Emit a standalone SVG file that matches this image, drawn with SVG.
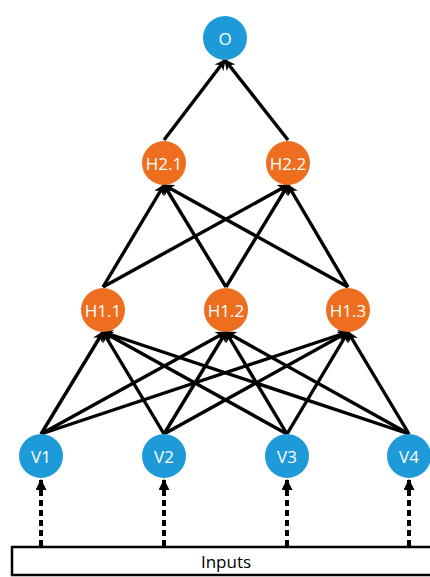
<svg xmlns="http://www.w3.org/2000/svg" width="430" height="577" viewBox="0 0 430 577">
<style>
.blue{fill:#1E9AD8}
.orange{fill:#EC6E1E}
.lbl{font-family:"Open Sans","Liberation Sans",sans-serif;font-size:17px;fill:#fff;text-anchor:middle;dominant-baseline:central}
.e{stroke:#000;stroke-width:3.4;fill:none;marker-end:url(#ah)}
.d{stroke:#000;stroke-width:4;stroke-dasharray:6,4;fill:none;marker-end:url(#ah2)}
</style>
<defs>
<marker id="ah" markerUnits="userSpaceOnUse" viewBox="0 0 10 10" refX="9" refY="5" markerWidth="11" markerHeight="11" orient="auto">
<path d="M0,0 L10,5 L0,10 L3,5 Z" fill="#000"/>
</marker>
<marker id="ah2" markerUnits="userSpaceOnUse" viewBox="0 0 10 10" refX="9" refY="5" markerWidth="11" markerHeight="11" orient="auto">
<path d="M0,0 L10,5 L0,10 Z" fill="#000"/>
</marker>
</defs>
<g id="connectors">
<line class="e" x1="164" y1="140" x2="225" y2="60"/>
<line class="e" x1="288" y1="140" x2="225" y2="60"/>
<line class="e" x1="103" y1="287" x2="164" y2="185"/>
<line class="e" x1="226" y1="287" x2="164" y2="185"/>
<line class="e" x1="348" y1="287" x2="164" y2="185"/>
<line class="e" x1="103" y1="287" x2="288" y2="185"/>
<line class="e" x1="226" y1="287" x2="288" y2="185"/>
<line class="e" x1="348" y1="287" x2="288" y2="185"/>
<line class="e" x1="41" y1="434" x2="103" y2="332"/>
<line class="e" x1="164" y1="434" x2="103" y2="332"/>
<line class="e" x1="287" y1="434" x2="103" y2="332"/>
<line class="e" x1="409" y1="434" x2="103" y2="332"/>
<line class="e" x1="41" y1="434" x2="226" y2="332"/>
<line class="e" x1="164" y1="434" x2="226" y2="332"/>
<line class="e" x1="287" y1="434" x2="226" y2="332"/>
<line class="e" x1="409" y1="434" x2="226" y2="332"/>
<line class="e" x1="41" y1="434" x2="348" y2="332"/>
<line class="e" x1="164" y1="434" x2="348" y2="332"/>
<line class="e" x1="287" y1="434" x2="348" y2="332"/>
<line class="e" x1="409" y1="434" x2="348" y2="332"/>
<line class="d" x1="41" y1="546" x2="41" y2="480"/>
<line class="d" x1="164" y1="546" x2="164" y2="480"/>
<line class="d" x1="287" y1="546" x2="287" y2="480"/>
<line class="d" x1="409" y1="546" x2="409" y2="480"/>
</g>
<g id="O"><circle class="blue" cx="225" cy="38" r="22"/><text class="lbl" x="225" y="38">O</text></g>
<g id="H2.1"><circle class="orange" cx="164" cy="163" r="22"/><text class="lbl" x="164" y="163">H2.1</text></g>
<g id="H2.2"><circle class="orange" cx="288" cy="163" r="22"/><text class="lbl" x="288" y="163">H2.2</text></g>
<g id="H1.1"><circle class="orange" cx="103" cy="310" r="22"/><text class="lbl" x="103" y="310">H1.1</text></g>
<g id="H1.2"><circle class="orange" cx="226" cy="310" r="22"/><text class="lbl" x="226" y="310">H1.2</text></g>
<g id="H1.3"><circle class="orange" cx="348" cy="310" r="22"/><text class="lbl" x="348" y="310">H1.3</text></g>
<g id="V1"><circle class="blue" cx="41" cy="456" r="22"/><text class="lbl" x="41" y="456">V1</text></g>
<g id="V2"><circle class="blue" cx="164" cy="456" r="22"/><text class="lbl" x="164" y="456">V2</text></g>
<g id="V3"><circle class="blue" cx="287" cy="456" r="22"/><text class="lbl" x="287" y="456">V3</text></g>
<g id="V4"><circle class="blue" cx="409" cy="456" r="22"/><text class="lbl" x="409" y="456">V4</text></g>
<g id="Inputs"><rect x="12" y="547" width="420" height="28" fill="#fff" stroke="#000" stroke-width="2.5"/><text x="226" y="561" font-family="'Open Sans','Liberation Sans',sans-serif" font-size="17" fill="#000" text-anchor="middle" dominant-baseline="central">Inputs</text></g>
</svg>
